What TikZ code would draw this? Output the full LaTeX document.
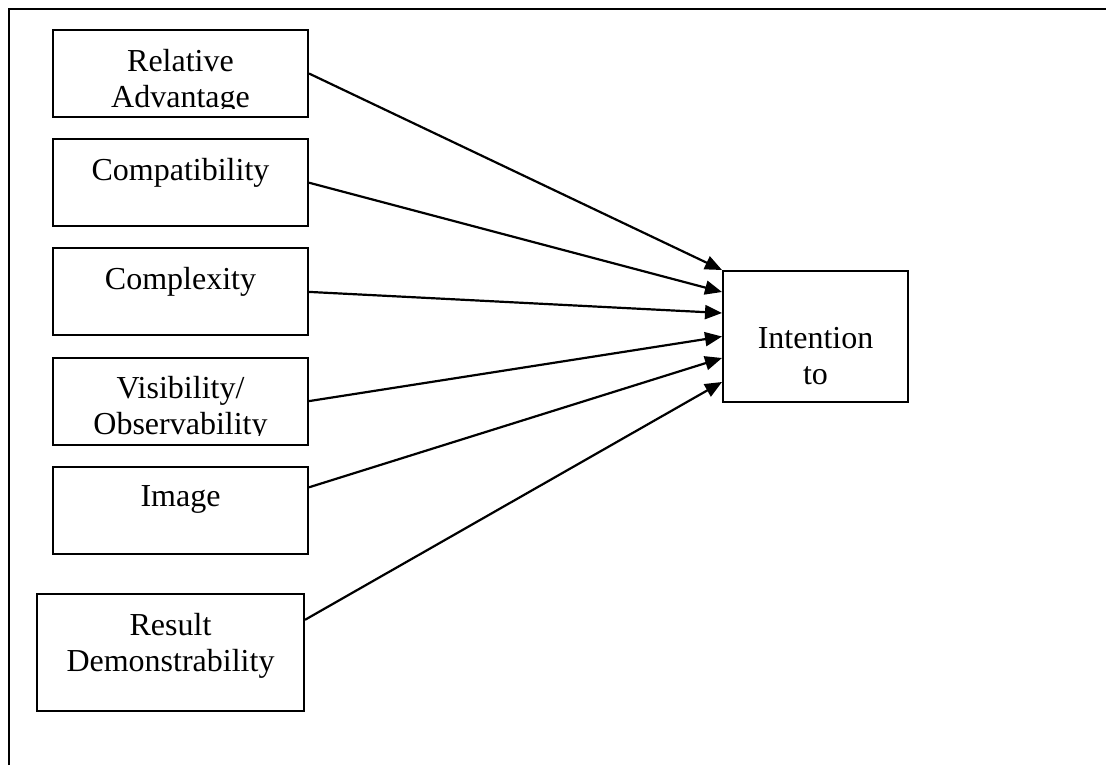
\documentclass[tikz,border=0pt]{standalone}
\usepackage{fontspec}
\setmainfont{Liberation Serif}
\usetikzlibrary{arrows.meta, positioning}

\begin{document}
\begin{tikzpicture}[
  x=0.5pt, y=-0.5pt,
  node distance=10.1pt,
  textdrop/.store in=\textdrop, textdrop=9.5pt,
  boxtext/.style={draw=none, minimum width=0pt, minimum height=0pt, inner sep=0pt, outer sep=0pt,
    align=center, anchor=north, font=\fontsize{16pt}{18pt}\selectfont},
  factor/.style={rectangle, draw, line width=1pt, minimum width=127.5pt, minimum height=43.5pt,
    path picture={
      \clip ([yshift=4.5pt]path picture bounding box.south west) rectangle (path picture bounding box.north east);
      \node[boxtext] (txt) at ([yshift=-\textdrop]path picture bounding box.north) {#1};
    }},
  arrow/.style={-{Triangle[length=8.5pt, width=7pt]}, line width=1.1pt}
]
  \useasboundingbox (0,0) rectangle (1106,765);
  % Frame
  \draw[line width=1.1pt] (9,765) -- (9,9) -- (1106,9);

  % Factors
  \node[factor={Relative\\Advantage}] (relAdv) at (180.5,73.5) {};
  \node[factor={Compatibility}, below=of relAdv] (compat) {};
  \node[factor={Complexity}, below=of compat] (complex) {};
  \node[factor={Visibility/\\Observability}, below=of complex] (visib) {};
  \node[factor={Image}, below=of visib] (image) {};
  \node[factor={Result\\Demonstrability}, minimum width=133.5pt, minimum height=58.5pt,
    below=19pt of image, xshift=-5pt] (result) {};

  % Outcome
  \node[factor={Intention\\to}, textdrop=28pt, minimum width=92.5pt, minimum height=65.5pt] (intent) at (815.5,336.5) {};

  \draw[arrow] (relAdv.east) -- (intent.north west);
  \draw[arrow] (compat.east) -- ([yshift=22.25pt]intent.west);
  \draw[arrow] (complex.east) -- ([yshift=11.75pt]intent.west);
  \draw[arrow] (visib.east) -- (intent.west);
  \draw[arrow] ([yshift=11.5pt]image.east) -- ([yshift=-10.75pt]intent.west);
  \draw[arrow] ([yshift=16.25pt]result.east) -- ([yshift=-22.75pt]intent.west);
\end{tikzpicture}
\end{document}
